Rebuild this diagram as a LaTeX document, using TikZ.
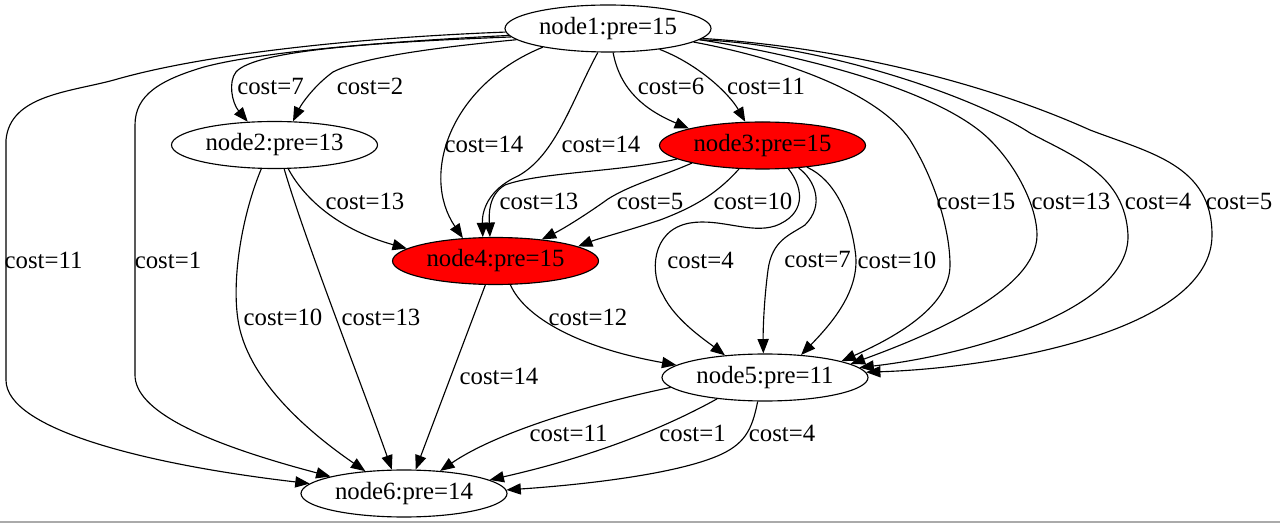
\documentclass[tikz,border=0pt]{standalone}
\usepackage{fontspec}
\setmainfont{Liberation Serif}
\usetikzlibrary{shapes.geometric,arrows.meta}
\newcommand\lbfont{\fontsize{18.6}{22}\selectfont}
\definecolor{hotred}{RGB}{255,0,0}
\definecolor{rulegray}{RGB}{170,170,170}
\tikzset{
  vtx/.style={ellipse, draw, line width=0.85pt, minimum width=154.5pt,
    minimum height=35.25pt, inner sep=0pt, font=\lbfont},
  hot/.style={vtx, fill=hotred},
  edge/.style={line width=0.85pt, -{Triangle[length=10.8pt,width=8.4pt]}},
  lbl/.style={inner sep=0pt, font=\lbfont},
}
\begin{document}
\begin{tikzpicture}[x=0.75pt,y=-0.75pt]
\useasboundingbox (0,0) rectangle (1280,523);
\fill[white] (0,0) rectangle (1280,523);
\draw[rulegray, line width=1.1pt] (0,522) -- (1280,522);

% vertices
\node[vtx] (n1) at (608,28.5) {node1:pre=15};
\node[vtx] (n2) at (274.5,145) {node2:pre=13};
\node[hot] (n3) at (762.5,145.5) {node3:pre=15};
\node[hot] (n4) at (495.5,261) {node4:pre=15};
\node[vtx] (n5) at (765,377.5) {node5:pre=11};
\node[vtx] (n6) at (404,493.5) {node6:pre=14};

% edges out of node1
\draw[edge] (n1.182.5) .. controls (350,38) and (200,55) .. (114,80)
  .. controls (70,92) and (10,95) .. (6,140) -- (6,380)
  .. controls (6,430) and (150,465) .. (n6.174.9);
\draw[edge] (n1.184.3) .. controls (380,42) and (260,52) .. (204,67)
  .. controls (160,80) and (135,95) .. (135,125) -- (135,375)
  .. controls (135,410) and (200,442) .. (n6.167.9);
\draw[edge] (n1.185) .. controls (380,42) and (255,50) .. (236,72)
  .. controls (228,82) and (232,103) .. (n2.139);
\draw[edge] (n1.187) .. controls (430,48) and (360,58) .. (333,72)
  .. controls (315,85) and (302,103) .. (n2.52.7);
\draw[edge] (n1.196) .. controls (450,85) and (420,175) .. (n4.145.5);
\draw[edge] (n1.247.8) .. controls (572,100) and (556,155) .. (518,176)
  .. controls (487,190) and (482,212) .. (n4.118.5);
\draw[edge] (n1.282) .. controls (620,90) and (645,110) .. (n3.167.8);
\draw[edge] (n1.338.5) .. controls (700,65) and (730,95) .. (n3.126.7);
\draw[edge] (n1.351.4) .. controls (790,60) and (880,95) .. (910,140)
  .. controls (935,180) and (950,230) .. (950,265)
  .. controls (950,305) and (900,335) .. (n5.12.4);
\draw[edge] (n1.353) .. controls (800,55) and (940,90) .. (990,140)
  .. controls (1020,170) and (1037,210) .. (1037,235)
  .. controls (1037,290) and (930,335) .. (n5.9);
\draw[edge] (n1.353.7) .. controls (830,45) and (980,100) .. (1030,133)
  .. controls (1075,157) and (1125,175) .. (1128,235)
  .. controls (1130,310) and (970,355) .. (n5.6.4);
\draw[edge] (n1.354.4) .. controls (850,48) and (990,85) .. (1090,130)
  .. controls (1150,153) and (1212,165) .. (1212,235)
  .. controls (1212,330) and (1000,368) .. (n5.3.1);

% edges out of node2
\draw[edge] (n2.300.4) .. controls (305,200) and (340,230) .. (n4.172.3);
\draw[edge] (n2.241.5) .. controls (240,220) and (230,290) .. (240,330)
  .. controls (255,390) and (320,440) .. (n6.150);
\draw[edge] (n2.292.4) .. controls (305,240) and (360,380) .. (n6.117.1);

% edges out of node3
\draw[edge] (n3.189.6) .. controls (620,172) and (540,172) .. (505,185)
  .. controls (488,195) and (489,215) .. (n4.103.2);
\draw[edge] (n3.194.9) .. controls (660,177) and (630,185) .. (608,199)
  .. controls (590,212) and (565,228) .. (n4.25.3);
\draw[edge] (n3.225) .. controls (720,190) and (700,205) .. (660,220)
  .. controls (630,230) and (600,238) .. (n4.10.4);
\draw[edge] (n3.318.6) .. controls (805,190) and (805,215) .. (775,226)
  .. controls (750,234) and (720,218) .. (690,223)
  .. controls (650,230) and (650,275) .. (663,295)
  .. controls (675,320) and (705,340) .. (n5.151.7);
\draw[edge] (n3.328.8) .. controls (815,180) and (825,205) .. (805,225)
  .. controls (790,235) and (772,240) .. (768,270)
  .. controls (764,300) and (763,330) .. (n5.94.9);
\draw[edge] (n3.334.2) .. controls (835,180) and (850,215) .. (855,250)
  .. controls (862,290) and (830,325) .. (n5.32.7);

% edges out of node4
\draw[edge] (n4.247.6) -- (n6.64.9);
\draw[edge] (n4.302.2) .. controls (525,318) and (580,348) .. (n5.172.9);

% edges out of node5
\draw[edge] (n5.186.5) .. controls (600,402) and (500,430) .. (n6.32);
\draw[edge] (n5.204.5) .. controls (670,425) and (600,455) .. (n6.9.9);
\draw[edge] (n5.253.4) .. controls (752,430) and (745,445) .. (715,457)
  .. controls (670,475) and (580,485) .. (n6.2);

% edge weights
\node[lbl] (l1) at (43.5,260) {cost=11};
\node[lbl] (l2) at (168,260) {cost=1};
\node[lbl] (l3) at (270.5,86.5) {cost=7};
\node[lbl] (l4) at (370,86.5) {cost=2};
\node[lbl] (l5) at (484,144) {cost=14};
\node[lbl] (l6) at (601,144) {cost=14};
\node[lbl] (l7) at (671,86.5) {cost=6};
\node[lbl] (l8) at (766,86.5) {cost=11};
\node[lbl] (l9) at (976,201.5) {cost=15};
\node[lbl] (l10) at (1071,201.5) {cost=13};
\node[lbl] (l11) at (1158,201.5) {cost=4};
\node[lbl] (l12) at (1239,201.5) {cost=5};
\node[lbl] (l13) at (365,201.5) {cost=13};
\node[lbl] (l14) at (283,317.5) {cost=10};
\node[lbl] (l15) at (381,317.5) {cost=13};
\node[lbl] (l16) at (539,201.5) {cost=13};
\node[lbl] (l17) at (650,201.5) {cost=5};
\node[lbl] (l18) at (753,201.5) {cost=10};
\node[lbl] (l19) at (700.5,260) {cost=4};
\node[lbl] (l20) at (817.5,260) {cost=7};
\node[lbl] (l21) at (897,260) {cost=10};
\node[lbl] (l22) at (499,376) {cost=14};
\node[lbl] (l23) at (588,317.5) {cost=12};
\node[lbl] (l24) at (568.5,433.5) {cost=11};
\node[lbl] (l25) at (692.5,433.5) {cost=1};
\node[lbl] (l26) at (782,433.5) {cost=4};
\end{tikzpicture}
\end{document}
